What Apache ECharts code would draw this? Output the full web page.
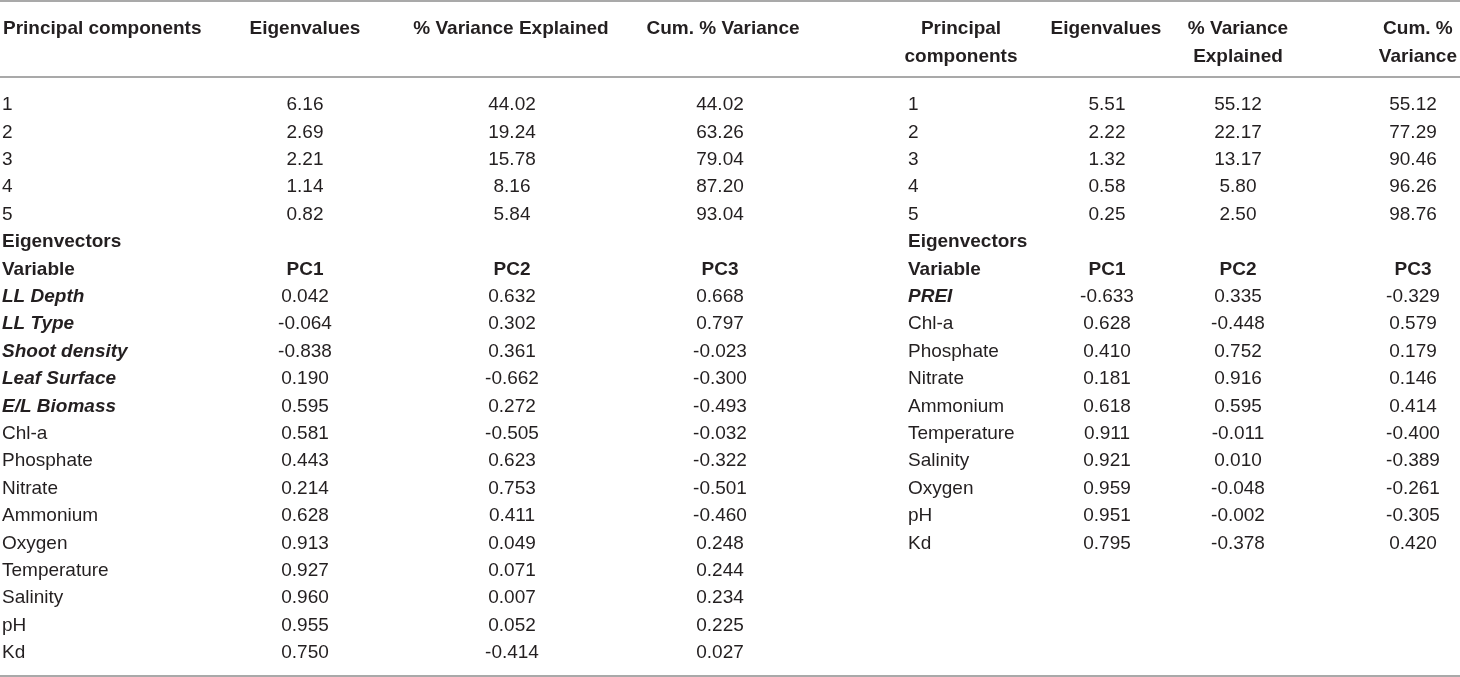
<!DOCTYPE html>
<html>
<head>
    <meta charset="UTF-8">
    <title>PCA eigenvalues and eigenvectors</title>
    <script src="https://cdn.jsdelivr.net/npm/echarts@6.0.0/dist/echarts.min.js"></script>
    <style>
        html, body { margin: 0; padding: 0; background: #fff; }
        #main { width: 1460px; height: 677px; }
    </style>
</head>
<body>
<div id="main"></div>
<script type="text/javascript">
    // ---- left table ----
    var compsA = [1, 2, 3, 4, 5];
    var eigenA = [6.16, 2.69, 2.21, 1.14, 0.82];
    var varExpA = [44.02, 19.24, 15.78, 8.16, 5.84];
    var cumVarA = [44.02, 63.26, 79.04, 87.20, 93.04];
    var varsA = ['LL Depth', 'LL Type', 'Shoot density', 'Leaf Surface', 'E/L Biomass', 'Chl-a', 'Phosphate',
        'Nitrate', 'Ammonium', 'Oxygen', 'Temperature', 'Salinity', 'pH', 'Kd'];
    var pc1A = [0.042, -0.064, -0.838, 0.190, 0.595, 0.581, 0.443, 0.214, 0.628, 0.913, 0.927, 0.960, 0.955, 0.750];
    var pc2A = [0.632, 0.302, 0.361, -0.662, 0.272, -0.505, 0.623, 0.753, 0.411, 0.049, 0.071, 0.007, 0.052, -0.414];
    var pc3A = [0.668, 0.797, -0.023, -0.300, -0.493, -0.032, -0.322, -0.501, -0.460, 0.248, 0.244, 0.234, 0.225, 0.027];
    var emphVarsA = ['LL Depth', 'LL Type', 'Shoot density', 'Leaf Surface', 'E/L Biomass'];
    var headersA = ['Principal components', 'Eigenvalues', '% Variance Explained', 'Cum. % Variance'];

    // ---- right table ----
    var compsB = [1, 2, 3, 4, 5];
    var eigenB = [5.51, 2.22, 1.32, 0.58, 0.25];
    var varExpB = [55.12, 22.17, 13.17, 5.80, 2.50];
    var cumVarB = [55.12, 77.29, 90.46, 96.26, 98.76];
    var varsB = ['PREI', 'Chl-a', 'Phosphate', 'Nitrate', 'Ammonium', 'Temperature', 'Salinity', 'Oxygen', 'pH', 'Kd'];
    var pc1B = [-0.633, 0.628, 0.410, 0.181, 0.618, 0.911, 0.921, 0.959, 0.951, 0.795];
    var pc2B = [0.335, -0.448, 0.752, 0.916, 0.595, -0.011, 0.010, -0.048, -0.002, -0.378];
    var pc3B = [-0.329, 0.579, 0.179, 0.146, 0.414, -0.400, -0.389, -0.261, -0.305, 0.420];
    var emphVarsB = ['PREI'];
    var headersB = ['Principal\ncomponents', 'Eigenvalues', '% Variance\nExplained', 'Cum. %\nVariance'];

    var pcNames = ['PC1', 'PC2', 'PC3'];
    var sectionTitle = 'Eigenvectors';
    var varTitle = 'Variable';

    // layout
    var FONT = "'Liberation Sans', Arial, Helvetica, sans-serif";
    var FS = 19;
    var TXT = '#231f20';
    var RULE = '#8c8c8c';
    var rowH = 27.4, rowCount = 21, bodyTop = 105 - rowH / 2;
    var headTop = 15, headLine = 28;
    var tables = [
        { colX: [2, 305, 512, 720], colAlign: ['left', 'center', 'center', 'center'],
          headX: [2, 305, 511, 723], headAlign: ['left', 'center', 'center', 'center'] },
        { colX: [908, 1107, 1238, 1413], colAlign: ['left', 'center', 'center', 'center'],
          headX: [961, 1106, 1238, 1418], headAlign: ['center', 'center', 'center', 'center'] }
    ];

    function fix(n, d) { return { t: n.toFixed(d) }; }

    function buildColumns(comps, eig, ve, cv, vars, pc1, pc2, pc3, emph) {
        var c0 = comps.map(function (c) { return { t: String(c) }; });
        c0.push({ t: sectionTitle, s: 'b' }, { t: varTitle, s: 'b' });
        vars.forEach(function (v) { c0.push({ t: v, s: emph.indexOf(v) >= 0 ? 'bi' : null }); });
        var cols = [c0];
        [[eig, 2, pc1], [ve, 2, pc2], [cv, 2, pc3]].forEach(function (g, k) {
            var col = g[0].map(function (v) { return fix(v, g[1]); });
            col.push(null, { t: pcNames[k], s: 'b' });
            g[2].forEach(function (v) { col.push(fix(v, 3)); });
            cols.push(col);
        });
        return cols;
    }

    var tableCols = [
        buildColumns(compsA, eigenA, varExpA, cumVarA, varsA, pc1A, pc2A, pc3A, emphVarsA),
        buildColumns(compsB, eigenB, varExpB, cumVarB, varsB, pc1B, pc2B, pc3B, emphVarsB)
    ];
    var tableHeads = [headersA, headersB];

    var rowIds = [];
    for (var r = 0; r < rowCount; r++) rowIds.push(r);

    var grids = [], xAxes = [], yAxes = [], series = [];
    var rich = {
        b: { fontFamily: FONT, fontSize: FS, fontWeight: 'bold', color: TXT },
        bi: { fontFamily: FONT, fontSize: FS, fontWeight: 'bold', fontStyle: 'italic', color: TXT }
    };

    tables.forEach(function (tb, ti) {
        tableCols[ti].forEach(function (col, ci) {
            // header cell grid
            var gi = grids.length;
            grids.push({ left: tb.headX[ci] - 2, width: 4, top: headTop - 1, height: 1 });
            xAxes.push({
                type: 'category', gridIndex: gi, position: 'bottom', data: [tableHeads[ti][ci]],
                axisLine: { show: false }, axisTick: { show: false }, splitLine: { show: false },
                axisLabel: {
                    interval: 0, margin: 0, align: tb.headAlign[ci], verticalAlign: 'top',
                    fontFamily: FONT, fontSize: FS, fontWeight: 'bold', color: TXT, lineHeight: headLine
                }
            });
            yAxes.push({ type: 'value', gridIndex: gi, show: false });

            // body cells grid
            gi = grids.length;
            grids.push({ left: tb.colX[ci] - 2, width: 4, top: bodyTop, height: rowH * rowCount });
            xAxes.push({ type: 'category', gridIndex: gi, data: ['c'], show: false });
            yAxes.push({ type: 'category', gridIndex: gi, data: rowIds, inverse: true, show: false });
            var pts = [];
            col.forEach(function (cell, ri) {
                if (cell) pts.push({ value: ['c', ri], cell: cell });
            });
            series.push({
                type: 'scatter', xAxisIndex: gi, yAxisIndex: gi, data: pts,
                symbolSize: 1, itemStyle: { color: 'rgba(0,0,0,0)', opacity: 1 }, silent: true,
                label: {
                    show: true, position: 'inside', align: tb.colAlign[ci], verticalAlign: 'middle',
                    fontFamily: FONT, fontSize: FS, color: TXT, opacity: 1, rich: rich,
                    formatter: function (p) {
                        var c = p.data.cell;
                        return c.s ? '{' + c.s + '|' + c.t + '}' : c.t;
                    }
                },
                emphasis: { disabled: true }
            });
        });
    });

    function rule(y) {
        return { type: 'line', shape: { x1: 0, y1: y, x2: 1460, y2: y }, style: { stroke: RULE, lineWidth: 1.6 }, silent: true };
    }

    var myChart = echarts.init(document.getElementById('main'));
    myChart.setOption({
        animation: false,
        backgroundColor: '#fff',
        grid: grids,
        xAxis: xAxes,
        yAxis: yAxes,
        series: series,
        graphic: [rule(1), rule(77), rule(676)]
    });
</script>
</body>
</html>
